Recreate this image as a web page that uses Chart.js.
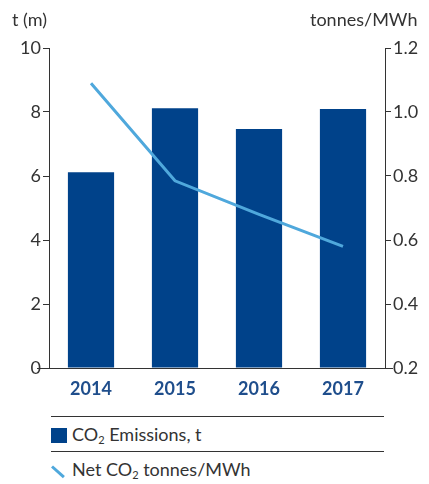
<!DOCTYPE html>
<html>
<head>
<meta charset="utf-8">
<script src="https://cdn.jsdelivr.net/npm/chart.js@4"></script>
<style>
  body { margin: 0; background: #fff; font-family: Lato, sans-serif; color: #333; }
  #wrap { position: relative; width: 429px; height: 484px; }
  #c { position: absolute; left: 0; top: 0; }
  .ttl { position: absolute; top: 8px; font-size: 18px; color: #333; }
  .leg { position: absolute; left: 51px; width: 333px; border-top: 1px solid #333; font-size: 18px; height: 34px; }
  .leg span.t { position: absolute; left: 21px; top: 6px; }
  .sw { position: absolute; left: 0; top: 11px; width: 16px; height: 15px; background: #00428a; }
  .ln { position: absolute; left: 1px; top: 13px; width: 16px; height: 3px; background: #4fa8dc; transform: rotate(42deg); transform-origin: left center; }
  sub { font-size: 11px; vertical-align: -3px; line-height: 0; }
</style>
</head>
<body>
<div id="wrap">
  <canvas id="c" width="429" height="410"></canvas>
  <div class="ttl" style="left:12px">t (m)</div>
  <div class="ttl" style="left:310px">tonnes/MWh</div>
  <div class="leg" style="top:416px"><div class="sw"></div><span class="t">CO<sub>2</sub> Emissions, t</span></div>
  <div class="leg" style="top:451px"><div class="ln"></div><span class="t">Net CO<sub>2</sub> tonnes/MWh</span></div>
</div>
<script>
const years = ['2014', '2015', '2016', '2017'];
const emissions = [6.12, 8.12, 7.47, 8.09];
const netPerMWh = [1.09, 0.785, 0.68, 0.58];

// extended baseline through zero
const baseline = {
  id: 'baseline',
  afterDraw(chart) {
    const ctx = chart.ctx;
    const y = chart.scales.y.getPixelForValue(0);
    ctx.save();
    ctx.strokeStyle = '#333';
    ctx.lineWidth = 1;
    ctx.beginPath();
    ctx.moveTo(chart.chartArea.left - 12, y + 0.5);
    ctx.lineTo(chart.chartArea.right + 8, y + 0.5);
    ctx.stroke();
    ctx.restore();
  }
};

new Chart(document.getElementById('c'), {
  data: {
    labels: years,
    datasets: [{
      type: 'line',
      label: 'Net CO2 tonnes/MWh',
      data: netPerMWh,
      yAxisID: 'y1',
      borderColor: '#4fa8dc',
      borderWidth: 3,
      pointRadius: 0,
      tension: 0
    }, {
      type: 'bar',
      label: 'CO2 Emissions, t',
      data: emissions,
      yAxisID: 'y',
      backgroundColor: '#00428a',
      barPercentage: 0.55,
      categoryPercentage: 1
    }]
  },
  options: {
    responsive: false,
    animation: false,
    layout: { padding: { top: 48, left: 0, right: 0, bottom: 0 } },
    plugins: { legend: { display: false }, tooltip: { enabled: false } },
    scales: {
      x: {
        grid: { display: false },
        border: { display: false },
        ticks: { color: '#1f4e8c', font: { family: 'Lato', size: 18, weight: 'bold' }, padding: 2 },
        afterFit: s => { s.height = 42; }
      },
      y: {
        position: 'left',
        min: 0, max: 10,
        ticks: { stepSize: 2, color: '#333', font: { family: 'Lato', size: 18 }, padding: 2 },
        grid: { drawOnChartArea: false, tickLength: 6, color: '#333' },
        border: { color: '#333' },
        afterFit: s => { s.width = 49; }
      },
      y1: {
        position: 'right',
        min: 0.2, max: 1.2,
        ticks: { stepSize: 0.2, color: '#333', font: { family: 'Lato', size: 18 }, padding: 2, callback: v => v.toFixed(1) },
        grid: { drawOnChartArea: false, tickLength: 6, color: '#333' },
        border: { color: '#333' },
        afterFit: s => { s.width = 44; }
      }
    }
  },
  plugins: [baseline]
});
</script>
</body>
</html>
